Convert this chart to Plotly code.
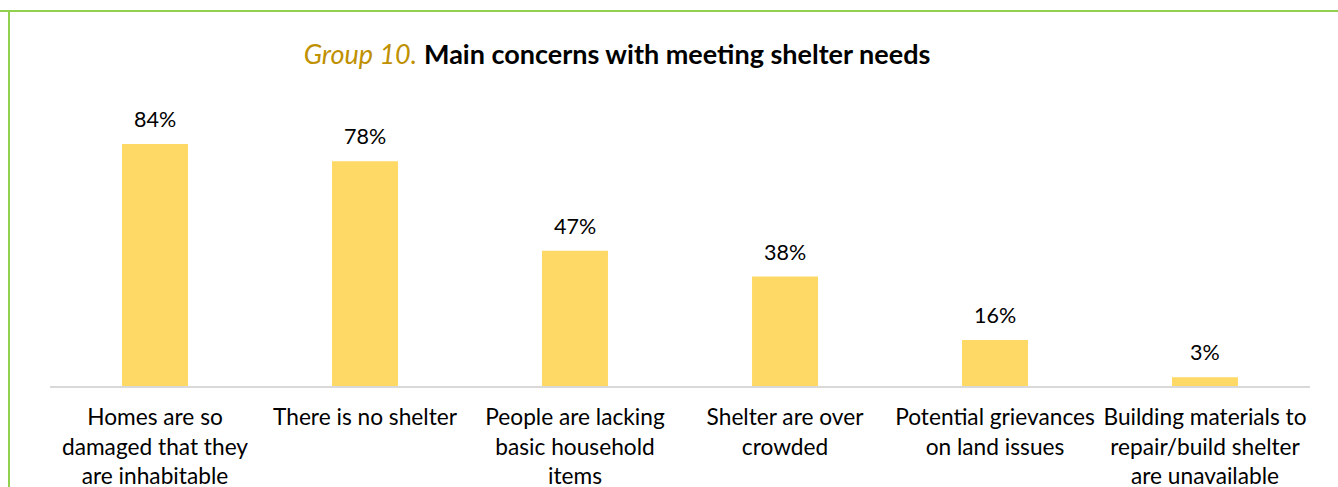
import plotly.graph_objects as go

# Shelter concern categories and share of respondents (%)
categories = [
    "Homes are so<br>damaged that they<br>are inhabitable",
    "There is no shelter",
    "People are lacking<br>basic household<br>items",
    "Shelter are over<br>crowded",
    "Potential grievances<br>on land issues",
    "Building materials to<br>repair/build shelter<br>are unavailable",
]
values = [84, 78, 47, 38, 16, 3]

W, H = 1338, 487
ML, MR, MT, MB = 50, 28, 98, 101
plot_w = W - ML - MR
plot_h = H - MT - MB

FONT = "Lato, Calibri, sans-serif"
BAR = "#FFD966"
GREEN = "#92D050"

fig = go.Figure(
    go.Bar(
        x=categories,
        y=values,
        marker=dict(color=BAR, line=dict(width=0)),
        width=0.314,
        hoverinfo="skip",
    )
)

# value labels above each bar
for c, v in zip(categories, values):
    fig.add_annotation(
        x=c, y=v, text=f"{v}%", showarrow=False, yshift=25,
        font=dict(family=FONT, size=21.5, color="#000000"),
    )


def px_x(px):
    return (px - ML) / plot_w


def px_y(py):
    return (H - MB - py) / plot_h


# frame: top and left green border
fig.add_shape(type="line", xref="paper", yref="paper",
              x0=px_x(0), x1=px_x(W), y0=px_y(11), y1=px_y(11),
              line=dict(color=GREEN, width=2))
fig.add_shape(type="line", xref="paper", yref="paper",
              x0=px_x(9), x1=px_x(9), y0=px_y(11), y1=px_y(H + 5),
              line=dict(color=GREEN, width=2))

fig.update_layout(
    width=W, height=H,
    margin=dict(l=ML, r=MR, t=MT, b=MB, autoexpand=False),
    paper_bgcolor="white", plot_bgcolor="white",
    showlegend=False,
    bargap=0.686,
    title=dict(
        text="<span style='color:#BF9000'><i>Group 10.</i></span> <b>Main concerns with meeting shelter needs</b>",
        x=617 / W, xanchor="center",
        y=1 - 55 / H, yanchor="middle",
        xref="container", yref="container",
        font=dict(family=FONT, size=27, color="#000000"),
        automargin=False,
    ),
    xaxis=dict(
        showline=True, linecolor="#D9D9D9", linewidth=1.5,
        ticks="", showgrid=False,
        tickfont=dict(family=FONT, size=22.7, color="#000000"),
        ticklabelstandoff=10,
        automargin=False,
        fixedrange=True,
    ),
    yaxis=dict(
        range=[0, 100], visible=False, showgrid=False, zeroline=False,
        automargin=False,
        fixedrange=True,
    ),
)

fig.write_html("out.html")
